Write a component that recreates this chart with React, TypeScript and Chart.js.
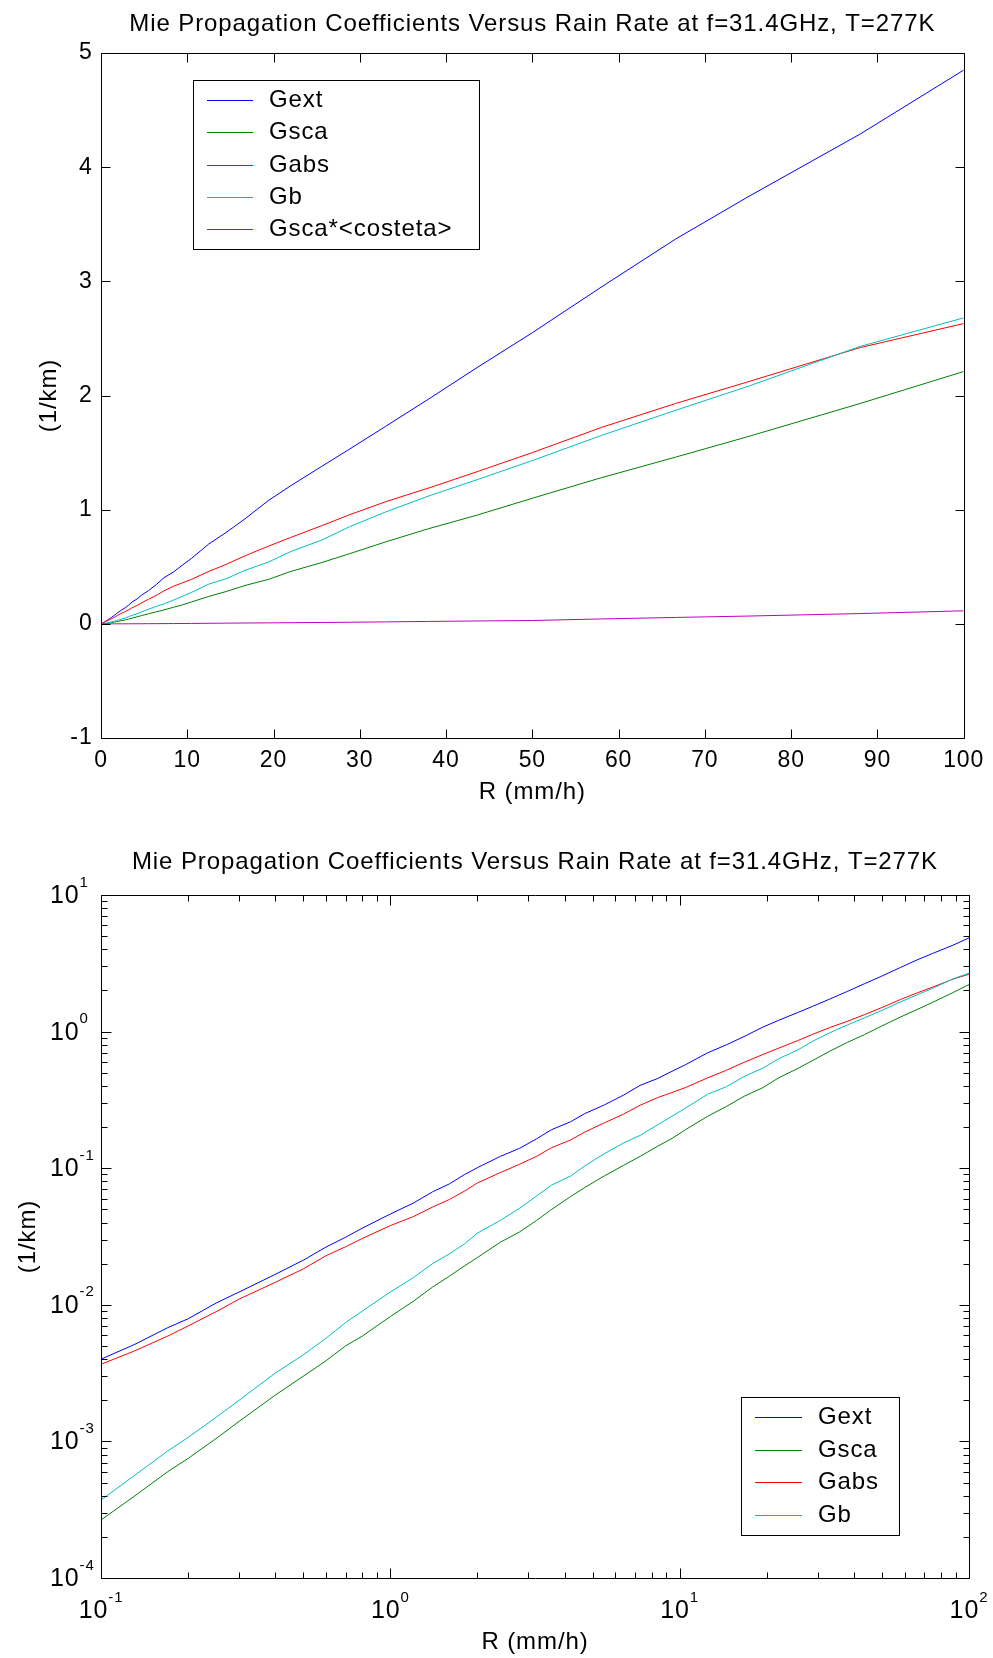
import React, { useEffect, useRef } from 'react';
import { Chart, registerables } from 'chart.js';

Chart.register(...registerables);

const FONT = '"Liberation Sans", Arial, Helvetica, sans-serif';
const TITLE = 'Mie Propagation Coefficients Versus Rain Rate at f=31.4GHz, T=277K';
const X_LABEL = 'R (mm/h)';
const Y_LABEL = '(1/km)';

// Rain rate samples (mm/h)
const R = [0.1, 0.13, 0.17, 0.2, 0.25, 0.3, 0.4, 0.5, 0.6, 0.7, 0.8, 1, 1.2, 1.4, 1.6, 1.8, 2, 2.4, 2.8, 3.2, 3.6, 4.2, 4.7, 5.5, 6.4, 7.3, 8.4, 9.4, 10.5, 12.5, 14.5, 16.7, 19.4, 22, 25.6, 28.8, 33, 38, 43.5, 50, 58, 66.6, 75, 88, 100];

const GEXT = [0.0040, 0.0051, 0.0068, 0.0079, 0.0103, 0.0124, 0.0167, 0.0212, 0.0265, 0.0312, 0.0364, 0.0462, 0.0555, 0.0672, 0.0768, 0.0895, 0.101, 0.122, 0.140, 0.164, 0.191, 0.219, 0.251, 0.291, 0.343, 0.404, 0.454, 0.512, 0.574, 0.70, 0.80, 0.92, 1.08, 1.21, 1.38, 1.53, 1.73, 1.97, 2.24, 2.55, 2.95, 3.37, 3.74, 4.29, 4.85];
const GSCA = [0.000266, 0.000395, 0.00060, 0.00075, 0.00105, 0.0014, 0.00218, 0.0030, 0.0039, 0.0050, 0.0059, 0.0082, 0.0106, 0.0135, 0.0162, 0.0192, 0.0222, 0.0287, 0.0342, 0.0414, 0.0497, 0.0620, 0.0722, 0.0880, 0.105, 0.122, 0.145, 0.165, 0.192, 0.240, 0.283, 0.336, 0.389, 0.459, 0.537, 0.614, 0.718, 0.834, 0.95, 1.10, 1.28, 1.46, 1.64, 1.93, 2.21];
const GABS = [0.00367, 0.00458, 0.00590, 0.00700, 0.00890, 0.0110, 0.0146, 0.0183, 0.0229, 0.0266, 0.0306, 0.0380, 0.0442, 0.0520, 0.0590, 0.0678, 0.0780, 0.0929, 0.107, 0.122, 0.141, 0.161, 0.184, 0.215, 0.249, 0.289, 0.329, 0.358, 0.390, 0.459, 0.521, 0.596, 0.68, 0.757, 0.86, 0.955, 1.07, 1.19, 1.33, 1.50, 1.72, 1.93, 2.12, 2.42, 2.63];
const GB = [0.000372, 0.00056, 0.00085, 0.00107, 0.0015, 0.0020, 0.00316, 0.0043, 0.0057, 0.0074, 0.0090, 0.0124, 0.0158, 0.0200, 0.0236, 0.0278, 0.0335, 0.0415, 0.0510, 0.0625, 0.0750, 0.0877, 0.104, 0.128, 0.153, 0.174, 0.208, 0.240, 0.276, 0.348, 0.395, 0.469, 0.541, 0.633, 0.734, 0.85, 0.98, 1.12, 1.26, 1.43, 1.65, 1.87, 2.08, 2.43, 2.68];
const GCOS = [0.0000006, 0.000001, 0.0000018, 0.0000025, 0.000004, 0.000006, 0.00001, 0.000016, 0.000023, 0.00003, 0.00004, 0.00006, 0.00008, 0.00011, 0.00014, 0.00018, 0.00022, 0.0003, 0.0004, 0.00052, 0.00065, 0.0008, 0.001, 0.0013, 0.0016, 0.002, 0.0025, 0.003, 0.0036, 0.0048, 0.0062, 0.0072, 0.0085, 0.010, 0.012, 0.014, 0.017, 0.021, 0.025, 0.029, 0.043, 0.056, 0.068, 0.090, 0.114];

const SERIES_NAMES = ['Gext', 'Gsca', 'Gabs', 'Gb', 'Gsca*<costeta>'];
const SERIES_VALUES = [GEXT, GSCA, GABS, GB, GCOS];
const SERIES_COLORS = ['#0000ff', '#008000', '#ff0000', '#00bfbf', '#bf00bf'];

const LIN_X_TICKS = [0, 10, 20, 30, 40, 50, 60, 70, 80, 90, 100];
const LIN_Y_TICKS = [-1, 0, 1, 2, 3, 4, 5];
const LOG_X_EXPONENTS = [-1, 0, 1, 2];
const LOG_Y_EXPONENTS = [-4, -3, -2, -1, 0, 1];
const LOG_MINOR = [2, 3, 4, 5, 6, 7, 8, 9];

const W = 993;
const H = 829;

function logMajor(exps: number[]) {
  return exps.map((e) => Math.pow(10, e));
}
function logMinor(exps: number[]) {
  const out: number[] = [];
  for (let i = 0; i < exps.length - 1; i++) {
    for (const m of LOG_MINOR) out.push(m * Math.pow(10, exps[i]));
  }
  return out;
}

const spacingPlugin = {
  id: 'spacing',
  beforeUpdate(chart: any) {
    chart.ctx.letterSpacing = '0.9px';
  },
  beforeDraw(chart: any) {
    chart.ctx.letterSpacing = '0.9px';
  },
};

function framePlugin(cfg: { xMajor: number[]; xMinor: number[]; yMajor: number[]; yMinor: number[]; majorLen: number; minorLen: number }) {
  return {
    id: 'frame',
    afterDatasetsDraw(chart: any) {
      const { ctx, chartArea: ca, scales } = chart;
      const L = Math.round(ca.left) + 0.5;
      const Rr = Math.round(ca.right) + 0.5;
      const T = Math.round(ca.top) + 0.5;
      const B = Math.round(ca.bottom) + 0.5;
      ctx.save();
      ctx.strokeStyle = '#000';
      ctx.lineWidth = 1;
      ctx.beginPath();
      const xt = (v: number, len: number) => {
        const p = Math.round(scales.x.getPixelForValue(v)) + 0.5;
        ctx.moveTo(p, B);
        ctx.lineTo(p, B - len);
        ctx.moveTo(p, T);
        ctx.lineTo(p, T + len);
      };
      const yt = (v: number, len: number) => {
        const p = Math.round(scales.y.getPixelForValue(v)) + 0.5;
        ctx.moveTo(L, p);
        ctx.lineTo(L + len, p);
        ctx.moveTo(Rr, p);
        ctx.lineTo(Rr - len, p);
      };
      cfg.xMajor.forEach((v) => xt(v, cfg.majorLen));
      cfg.xMinor.forEach((v) => xt(v, cfg.minorLen));
      cfg.yMajor.forEach((v) => yt(v, cfg.majorLen));
      cfg.yMinor.forEach((v) => yt(v, cfg.minorLen));
      ctx.rect(L, T, Rr - L, B - T);
      ctx.stroke();
      ctx.restore();
    },
  };
}

function legendPlugin(cfg: { x: number; y: number; w: number; h: number; lx0: number; lx1: number; tx: number; row0: number; step: number; count: number }) {
  return {
    id: 'boxLegend',
    afterDraw(chart: any) {
      const { ctx } = chart;
      ctx.save();
      ctx.fillStyle = '#fff';
      ctx.fillRect(cfg.x, cfg.y, cfg.w, cfg.h);
      ctx.strokeStyle = '#000';
      ctx.lineWidth = 1;
      ctx.strokeRect(cfg.x + 0.5, cfg.y + 0.5, cfg.w, cfg.h);
      ctx.font = `24px ${FONT}`;
      ctx.textBaseline = 'middle';
      ctx.textAlign = 'left';
      for (let i = 0; i < cfg.count; i++) {
        const ds = chart.data.datasets[i];
        const y = Math.round(cfg.row0 + i * cfg.step) + 0.5;
        ctx.strokeStyle = ds.borderColor;
        ctx.beginPath();
        ctx.moveTo(cfg.lx0, y);
        ctx.lineTo(cfg.lx1, y);
        ctx.stroke();
        ctx.fillStyle = '#000';
        ctx.fillText(ds.label, cfg.tx, y);
      }
      ctx.restore();
    },
  };
}

const logLabelPlugin = {
  id: 'logLabels',
  afterDraw(chart: any) {
    const { ctx, chartArea: ca, scales } = chart;
    ctx.save();
    ctx.fillStyle = '#000';
    ctx.textBaseline = 'alphabetic';
    ctx.textAlign = 'left';
    const mainFont = `25px ${FONT}`;
    const expFont = `15px ${FONT}`;
    const raise = 16.5;
    for (const e of LOG_X_EXPONENTS) {
      const px = scales.x.getPixelForValue(Math.pow(10, e));
      ctx.font = mainFont;
      const w1 = ctx.measureText('10').width;
      ctx.font = expFont;
      const w2 = ctx.measureText(String(e)).width;
      const x0 = px - (w1 + w2) / 2;
      const base = ca.bottom + 40;
      ctx.font = mainFont;
      ctx.fillText('10', x0, base);
      ctx.font = expFont;
      ctx.fillText(String(e), x0 + w1, base - raise);
    }
    for (const e of LOG_Y_EXPONENTS) {
      const py = scales.y.getPixelForValue(Math.pow(10, e));
      const x0 = 50;
      const base = py + 8;
      ctx.font = mainFont;
      const w1 = ctx.measureText('10').width;
      ctx.fillText('10', x0, base);
      ctx.font = expFont;
      ctx.fillText(String(e), x0 + w1, base - raise);
    }
    ctx.restore();
  },
};

function makeDatasets(count: number) {
  return SERIES_NAMES.slice(0, count).map((name, i) => ({
    label: name,
    data: R.map((r, j) => ({ x: r, y: SERIES_VALUES[i][j] })),
    borderColor: SERIES_COLORS[i],
    backgroundColor: SERIES_COLORS[i],
    borderWidth: 1,
    pointRadius: 0,
    fill: false,
    tension: 0,
    order: count - 1 - i,
  }));
}

const titleFont = { family: FONT, size: 24, weight: 'normal' as const };

function topConfig(): any {
  return {
    type: 'line',
    data: { datasets: makeDatasets(5) },
    options: {
      responsive: false,
      animation: false,
      devicePixelRatio: 1,
      events: [],
      layout: { padding: { left: 0, right: 24, top: 0, bottom: 0 } },
      plugins: {
        legend: { display: false },
        tooltip: { enabled: false },
        title: { display: true, fullSize: false, text: TITLE, color: '#000', font: titleFont, padding: { top: 9.6, bottom: 14.6 } },
      },
      scales: {
        x: {
          type: 'linear',
          min: 0,
          max: 100,
          grid: { display: false, drawTicks: false },
          border: { display: false },
          afterBuildTicks: (s: any) => { s.ticks = LIN_X_TICKS.map((v) => ({ value: v })); },
          ticks: { autoSkip: false, maxRotation: 0, color: '#000', font: { family: FONT, size: 23 }, padding: 8.8 },
          title: { display: true, text: X_LABEL, color: '#000', font: titleFont, padding: { top: 0, bottom: 22.6 } },
          afterFit: (s: any) => { s.height = 91; },
        },
        y: {
          type: 'linear',
          min: -1,
          max: 5,
          grid: { display: false, drawTicks: false },
          border: { display: false },
          afterBuildTicks: (s: any) => { s.ticks = LIN_Y_TICKS.map((v) => ({ value: v })); },
          ticks: { autoSkip: false, color: '#000', font: { family: FONT, size: 23 }, padding: 8.4 },
          title: { display: true, text: Y_LABEL, color: '#000', font: titleFont, padding: { top: 34.6, bottom: 0 } },
          afterFit: (s: any) => { s.width = 101; },
        },
      },
    },
    plugins: [
      spacingPlugin,
      framePlugin({ xMajor: LIN_X_TICKS, xMinor: [], yMajor: LIN_Y_TICKS, yMinor: [], majorLen: 9, minorLen: 5 }),
      legendPlugin({ x: 193, y: 80, w: 286, h: 169, lx0: 207, lx1: 253, tx: 269, row0: 100, step: 32.3, count: 5 }),
    ],
  };
}

function bottomConfig(): any {
  return {
    type: 'line',
    data: { datasets: makeDatasets(4) },
    options: {
      responsive: false,
      animation: false,
      devicePixelRatio: 1,
      events: [],
      layout: { padding: { left: 0, right: 24, top: 0, bottom: 0 } },
      plugins: {
        legend: { display: false },
        tooltip: { enabled: false },
        title: { display: true, fullSize: false, text: TITLE, color: '#000', font: titleFont, padding: { top: 19.1, bottom: 18.1 } },
      },
      scales: {
        x: {
          type: 'logarithmic',
          min: 0.1,
          max: 100,
          grid: { display: false, drawTicks: false },
          border: { display: false },
          ticks: { display: false },
          title: { display: true, text: X_LABEL, color: '#000', font: titleFont, padding: { top: 0, bottom: 1.1 } },
          afterFit: (s: any) => { s.height = 80; },
        },
        y: {
          type: 'logarithmic',
          min: 0.0001,
          max: 10,
          grid: { display: false, drawTicks: false },
          border: { display: false },
          ticks: { display: false },
          title: { display: true, text: Y_LABEL, color: '#000', font: titleFont, padding: { top: 14, bottom: 0 } },
          afterFit: (s: any) => { s.width = 101; },
        },
      },
    },
    plugins: [
      spacingPlugin,
      framePlugin({
        xMajor: logMajor(LOG_X_EXPONENTS),
        xMinor: logMinor(LOG_X_EXPONENTS),
        yMajor: logMajor(LOG_Y_EXPONENTS),
        yMinor: logMinor(LOG_Y_EXPONENTS),
        majorLen: 10,
        minorLen: 6,
      }),
      legendPlugin({ x: 741, y: 568, w: 158, h: 138, lx0: 755, lx1: 802, tx: 818, row0: 588, step: 32.5, count: 4 }),
      logLabelPlugin,
    ],
  };
}

function ChartCanvas({ makeConfig }: { makeConfig: () => any }) {
  const ref = useRef<HTMLCanvasElement | null>(null);
  useEffect(() => {
    if (!ref.current) return;
    const chart = new Chart(ref.current, makeConfig());
    return () => chart.destroy();
  }, [makeConfig]);
  return <canvas ref={ref} width={W} height={H} style={{ display: 'block', width: W, height: H }} />;
}

export default function App() {
  return (
    <div style={{ position: 'absolute', left: 0, top: 0, width: W, height: 2 * H, background: '#fff' }}>
      <ChartCanvas makeConfig={topConfig} />
      <ChartCanvas makeConfig={bottomConfig} />
    </div>
  );
}
